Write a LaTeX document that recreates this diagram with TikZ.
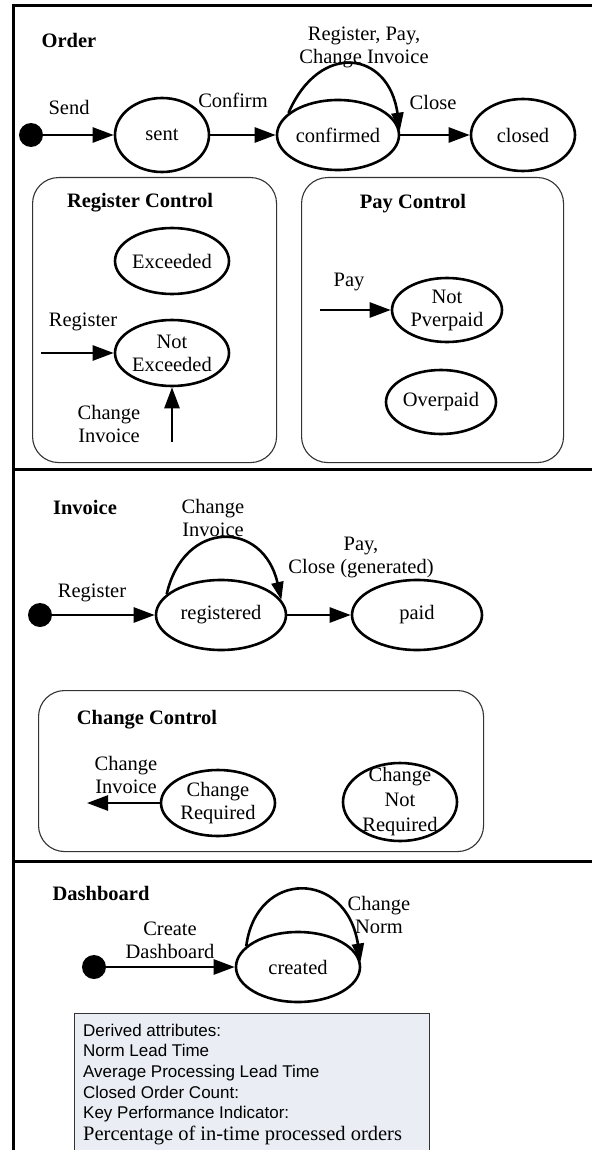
\documentclass[tikz,border=0pt]{standalone}
\usepackage{fontspec}
\setmainfont{Liberation Serif}
\newfontfamily\notesans{Liberation Sans}
\usetikzlibrary{arrows.meta, shapes.geometric}

\begin{document}
\begin{tikzpicture}[x=1pt, y=-1pt,
  every node/.style={font=\fontsize{20.5}{23}\selectfont, inner sep=0pt},
  lbl/.style={align=center},
  title/.style={font=\fontsize{20.5}{23}\selectfont\bfseries},
  state/.style={ellipse, draw, line width=2.6pt, align=center},
  initial/.style={circle, fill, minimum size=24pt},
  region/.style={rectangle, draw=black!80, line width=1.1pt, rounded corners=26pt, anchor=north west},
  trans/.style={line width=2.6pt, -{Triangle[length=21pt,width=15pt]}},
  selfloop/.style={line width=2.6pt, -{Triangle[length=18pt,width=12pt]}},
  frameline/.style={line width=3pt},
  noteline/.style={anchor=base west, font=\notesans\fontsize{17}{20}\selectfont},
]
\useasboundingbox (0,0) rectangle (592,1150);
\clip (0,0) rectangle (592,1150);

% ---------- swimlane frame ----------
\draw[frameline] (592,6) -- (13,6) -- (13,1152);
\draw[frameline] (13,469) -- (592,469);
\draw[frameline] (13,861) -- (592,861);

% ---------- Order ----------
\node[title] (ordertitle) at (69,40) {Order};
\node[initial] (o0) at (31,135) {};
\node[state, minimum width=94pt, minimum height=74pt] (sent) at (162,135) {sent};
\node[state, minimum width=122pt, minimum height=70pt] (confirmed) at (338,135) {confirmed};
\node[state, minimum width=104pt, minimum height=72pt] (closed) at (523,135) {closed};
\node (lsend) at (69,107) {Send};
\node (lconfirm) at (233,100) {Confirm};
\node (lclose) at (433,102) {Close};
\node[lbl] (lorderloop) at (364,47) {Register, Pay,\\Change Invoice};
\draw[trans] (o0) -- (sent);
\draw[trans] (sent) -- (confirmed);
\draw[trans] (confirmed) -- (closed);
\draw[selfloop] (confirmed.156) .. controls +(31,-72) and +(-11,-80) .. (confirmed.4);

% Register Control region
\node[region, minimum width=244pt, minimum height=285pt] (regctl) at (32,177) {};
\node[title] (regtitle) at (140,203) {Register Control};
\node[state, minimum width=114pt, minimum height=66pt] (exceeded) at (172,261) {Exceeded};
\node[state, minimum width=114pt, minimum height=66pt] (notexc) at (172,353) {Not\\Exceeded};
\coordinate (regin) at (41,353);
\coordinate (chgin) at (172,442);
\node (lregister) at (83,322) {Register};
\node[lbl] (lchange) at (109,424) {Change\\Invoice};
\draw[trans] (regin) -- (notexc);
\draw[trans] (chgin) -- (notexc);

% Pay Control region
\node[region, minimum width=262pt, minimum height=285pt] (payctl) at (301,177) {};
\node[title] (paytitle) at (413,204) {Pay Control};
\node[state, minimum width=110pt, minimum height=64pt] (notpv) at (447,310) {Not\\Pverpaid};
\node[state, minimum width=110pt, minimum height=64pt] (overpaid) at (441,402) {Overpaid};
\coordinate (payin) at (320,310);
\node (lpay) at (349,282) {Pay};
\draw[trans] (payin) -- (notpv);

% ---------- Invoice ----------
\node[title] (invtitle) at (85,507) {Invoice};
\node[initial] (i0) at (40,615) {};
\node[state, minimum width=130pt, minimum height=70pt] (registered) at (221,615) {registered};
\node[state, minimum width=130pt, minimum height=70pt] (paid) at (417,615) {paid};
\node (lregister2) at (92,593) {Register};
\node[lbl] (linvloop) at (213,518) {Change\\Invoice};
\node[lbl] (lpaid) at (361,557) {Pay,\\Close (generated)};
\draw[trans] (i0) -- (registered);
\draw[trans] (registered) -- (paid);
\draw[selfloop] (registered.159) .. controls +(17,-75) and +(-18,-80) .. (registered.14);

% Change Control region
\node[region, minimum width=445pt, minimum height=161pt] (chgctl) at (38,690) {};
\node[title] (chgtitle) at (147,720) {Change Control};
\node[state, minimum width=114pt, minimum height=66pt] (chreq) at (218,803) {Change\\Required};
\node[state, minimum width=114pt, minimum height=78pt,
      label={[lbl, font=\fontsize{20.5}{25}\selectfont]center:Change\\Not\\Required}] (chnotreq) at (400,802) {};
\coordinate (chout) at (87,803);
\node[lbl] (lchout) at (126,775) {Change\\Invoice};
\draw[trans] (chreq) -- (chout);

% ---------- Dashboard ----------
\node[title] (dashtitle) at (101,893) {Dashboard};
\node[initial] (d0) at (94,967) {};
\node[state, minimum width=124pt, minimum height=70pt] (created) at (298,967) {created};
\node[lbl] (lcreate) at (170,940) {Create\\Dashboard};
\node[lbl] (lnorm) at (379,915) {Change\\Norm};
\draw[trans] (d0) -- (created);
\draw[selfloop] (created.158) .. controls +(10,-77) and +(-14,-92) .. (created.5);

% derived attributes note
\node[rectangle, draw=black!80, line width=1.4pt, fill={rgb,255:red,234;green,238;blue,244},
      anchor=north west, minimum width=355pt, minimum height=160pt] (note) at (74,1013) {};
\node[noteline] (n1) at (83,1036) {Derived attributes:};
\node[noteline] (n2) at (83,1056) {Norm Lead Time};
\node[noteline] (n3) at (83,1077) {Average Processing Lead Time};
\node[noteline] (n4) at (83,1098) {Closed Order Count:};
\node[noteline] (n5) at (83,1118) {Key Performance Indicator:};
\node[anchor=base west] (n6) at (83,1140) {Percentage of in-time processed orders};
\end{tikzpicture}
\end{document}
